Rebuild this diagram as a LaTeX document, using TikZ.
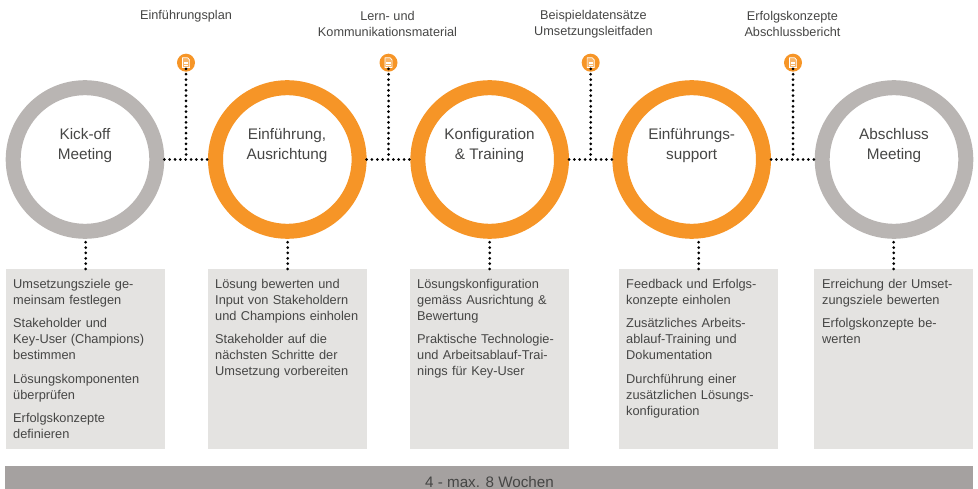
\documentclass[tikz,border=0pt]{standalone}
\usepackage{fontspec}
\setmainfont{Liberation Sans}
\definecolor{ringgray}{HTML}{B9B5B3}
\definecolor{ringorange}{HTML}{F69527}
\definecolor{boxgray}{HTML}{E4E3E1}
\definecolor{bargray}{HTML}{A5A1A0}
\definecolor{txt}{HTML}{464645}
\tikzset{
  x=1pt,y=-1pt,
  ring/.style={circle,draw=#1,line width=15pt,fill=white,minimum size=143.6pt,inner sep=0pt},
  ringlabel/.style={inner sep=0pt,align=center,text=txt,font=\fontsize{15.3}{20}\selectfont},
  infobox/.style={fill=boxgray,minimum width=159pt,minimum height=180pt,inner sep=0pt,anchor=north west},
  boxtext/.style={anchor=north west,inner sep=0pt,align=left,text=txt,font=\fontsize{12.8}{16}\selectfont},
  doctitle/.style={inner sep=0pt,align=center,text=txt,font=\fontsize{12.7}{16}\selectfont},
  icon/.style={circle,fill=ringorange,minimum size=18pt,inner sep=0pt},
  dots/.style={line width=3pt,line cap=round,dash pattern=on 0pt off 5.35pt,black},
}
\newcommand{\para}{\par\vspace{7.2pt}}
\begin{document}
\begin{tikzpicture}
\useasboundingbox (0,0) rectangle (978,489);
\coordinate (j1) at (186,159.5);
\coordinate (j2) at (388.5,159.5);
\coordinate (j3) at (590.7,159.5);
\coordinate (j4) at (793,159.5);
% rings
\node[ring=ringgray] (c1) at (85,159.5) {};
\node[ring=ringorange] (c2) at (287.3,159.5) {};
\node[ring=ringorange] (c3) at (489.7,159.5) {};
\node[ring=ringorange] (c4) at (691.7,159.5) {};
\node[ring=ringgray] (c5) at (894,159.5) {};
\node[ringlabel] (l1) at (85,146) {Kick-off\\Meeting};
\node[ringlabel] (l2) at (287,146) {Einführung,\\Ausrichtung};
\node[ringlabel] (l3) at (489.5,146) {Konfiguration\\\& Training};
\node[ringlabel] (l4) at (691.7,146) {Einführungs-\\support};
\node[ringlabel] (l5) at (894,146) {Abschluss\\Meeting};
% boxes
\node[infobox] (b1) at (6,269) {};
\node[infobox] (b2) at (208,269) {};
\node[infobox] (b3) at (410,269) {};
\node[infobox] (b4) at (619,269) {};
\node[infobox] (b5) at (814,269) {};
\node[boxtext,text width=150pt] (x1) at (13,279.3) {Umsetzungsziele ge-\\meinsam festlegen\para Stakeholder und\\Key-User (Champions)\\bestimmen\para Lösungskomponenten\\überprüfen\para Erfolgskonzepte\\definieren};
\node[boxtext,text width=150pt] (x2) at (215,278.6) {Lösung bewerten und\\Input von Stakeholdern\\und Champions einholen\para Stakeholder auf die\\nächsten Schritte der\\Umsetzung vorbereiten};
\node[boxtext,text width=150pt] (x3) at (417,279) {Lösungskonfiguration\\gemäss Ausrichtung \&\\Bewertung\para Praktische Technologie-\\und Arbeitsablauf-Trai-\\nings für Key-User};
\node[boxtext,text width=150pt] (x4) at (626,279.3) {Feedback und Erfolgs-\\konzepte einholen\para Zusätzliches Arbeits-\\ablauf-Training und\\Dokumentation\para Durchführung einer\\zusätzlichen Lösungs-\\konfiguration};
\node[boxtext,text width=150pt] (x5) at (822,279.3) {Erreichung der Umset-\\zungsziele bewerten\para Erfolgskonzepte be-\\werten};
% bar
\node[fill=bargray,minimum width=968pt,minimum height=23pt,inner sep=0pt,anchor=north west] (bar) at (5,466) {};
\node[inner sep=0pt,text=txt,font=\fontsize{15.2}{18}\selectfont] (bt) at (489.5,482) {4 - max. 8 Wochen};
% icons
\foreach \n/\x in {1/186,2/388.5,3/590.7,4/793}{
  \node[icon] (i\n) at (\x,62.7) {};
  \draw[white,line width=.7pt,fill=white,fill opacity=.3,line join=round] (\x-3.6,62.7-4.9) -- (\x+1.6,62.7-4.9) -- (\x+3.6,62.7-2.8) -- (\x+3.6,62.7+4.9) -- (\x-3.6,62.7+4.9) -- cycle;
  \draw[white,line width=.5pt] (\x-2.2,62.7-.8) -- (\x+2.2,62.7-.8) (\x-2.2,62.7+1) -- (\x+2.2,62.7+1) (\x-2.2,62.7+2.8) -- (\x+2.2,62.7+2.8);
}
\node[doctitle] (t1) at (186,16) {Einführungsplan};
\node[doctitle] (t2) at (387.5,24) {Lern- und\\Kommunikationsmaterial};
\node[doctitle] (t3) at (593.5,24) {Beispieldatensätze\\Umsetzungsleitfaden};
\node[doctitle] (t4) at (792.5,24) {Erfolgskonzepte\\Abschlussbericht};
% dotted connectors
\draw[dots] (c1.east) -- (c2.west);
\draw[dots] (c2.east) -- (c3.west);
\draw[dots] (c3.east) -- (c4.west);
\draw[dots] (c4.east) -- (c5.west);
\foreach \n in {1,2,3,4}{\draw[dots] (i\n.south) ++(0,3pt) -- (j\n);}
\foreach \n in {1,2,3,4,5}{\draw[dots] (b\n.north) -- (b\n.north |- c\n.south);}
\end{tikzpicture}
\end{document}
